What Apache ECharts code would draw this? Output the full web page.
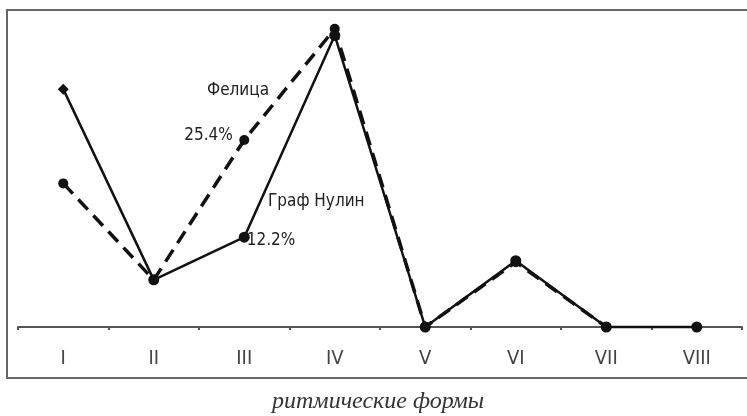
<!DOCTYPE html>
<html>
<head>
<meta charset="utf-8">
<script src="https://cdn.jsdelivr.net/npm/echarts@6/dist/echarts.min.js"></script>
<style>
  html, body { margin: 0; padding: 0; background: #fff; }
  #chart { width: 747px; height: 416px; }
</style>
</head>
<body>
<div id="chart"></div>
<script>
// ритмические формы
const categories = ['I', 'II', 'III', 'IV', 'V', 'VI', 'VII', 'VIII']
const grafNulin = [32.3, 6.4, 12.2, 39.6, 0, 9.0, 0, 0]     // сплошная
const felitsa = [19.5, 6.4, 25.4, 40.5, 0, 8.8, 0, null]    // пунктир

const textFont = 'DejaVu Sans Condensed, Liberation Sans Narrow, Arial Narrow, sans-serif'

const chart = echarts.init(document.getElementById('chart'))

const markSym = (arr, sym, labelIdx, labelPos) => arr.map((v, i) => {
  const item = { value: v, symbol: i === 0 ? sym : 'circle' }
  if (i === labelIdx) {
    item.label = {
      show: true,
      formatter: v.toFixed(1) + '%',
      position: labelPos,
      color: '#222',
      fontSize: 17,
      fontFamily: textFont
    }
  }
  return item
})

chart.setOption({
  animation: false,
  grid: { left: 18, right: 5, top: 3, bottom: 89 },
  xAxis: {
    type: 'category',
    data: categories,
    boundaryGap: true,
    axisLine: { lineStyle: { color: '#555', width: 2 } },
    axisTick: { show: true, length: 3, lineStyle: { color: '#555', width: 2 } },
    axisLabel: {
      color: '#444',
      fontSize: 20,
      margin: 22,
      fontFamily: textFont
    }
  },
  yAxis: {
    type: 'value',
    min: 0,
    max: 44,
    show: false,
    splitLine: { show: false }
  },
  series: [
    {
      name: 'Фелица',
      type: 'line',
      clip: false,
      data: markSym(felitsa, 'circle', 2, [-55, -8]),
      symbolSize: 10,
      itemStyle: { color: '#111' },
      lineStyle: { color: '#111', width: 3.5, type: [14, 8] },
      z: 3
    },
    {
      name: 'Граф Нулин',
      type: 'line',
      clip: false,
      data: markSym(grafNulin, 'diamond', 2, [8, 0]),
      symbolSize: 11,
      itemStyle: { color: '#111' },
      lineStyle: { color: '#111', width: 2.5 },
      z: 4
    }
  ],
  graphic: [
    {
      type: 'rect',
      shape: { x: 7, y: 10, width: 760, height: 368 },
      style: { fill: 'none', stroke: '#666', lineWidth: 2 },
      silent: true
    },
    {
      type: 'text',
      left: 207, top: 82,
      style: { text: 'Фелица', fill: '#222', fontSize: 17, fontFamily: textFont }
    },
    {
      type: 'text',
      left: 268, top: 193,
      style: { text: 'Граф Нулин', fill: '#222', fontSize: 17, fontFamily: textFont }
    },
    {
      type: 'text',
      left: 272, top: 390,
      style: { text: 'ритмические формы', fill: '#333', fontSize: 24, fontStyle: 'italic', fontFamily: 'Liberation Serif, DejaVu Serif, serif' }
    }
  ]
})
</script>
</body>
</html>
